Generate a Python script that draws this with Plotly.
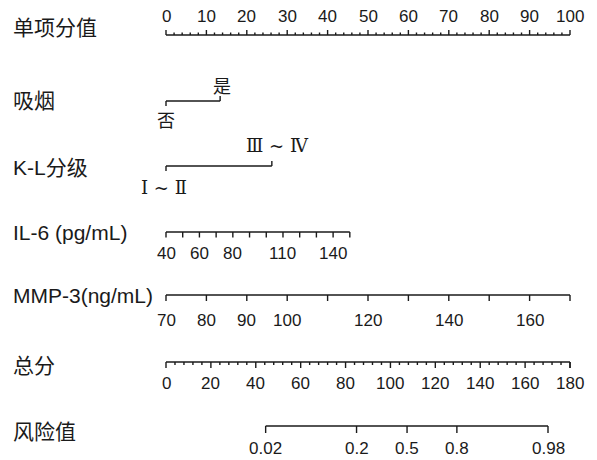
import plotly.graph_objects as go

# ---------------- data ----------------
row_labels = ["单项分值", "吸烟", "K-L分级", "IL-6 (pg/mL)", "MMP-3(ng/mL)", "总分", "风险值"]

point_ticks = list(range(0, 101, 10))          # 单项分值 labelled ticks
point_minor_step = 2

smoking_levels = ["否", "是"]
smoking_points = [0, 13.4]

kl_levels = ["Ⅰ ~ Ⅱ", "Ⅲ ~ Ⅳ"]
kl_points = [0, 26.2]

il6_range = [40, 150]
il6_points_range = [0, 45.5]
il6_ticks = list(range(40, 151, 10))
il6_labels = [40, 60, 80, 110, 140]

mmp3_range = [70, 170]
mmp3_points_range = [0, 100]
mmp3_ticks = list(range(70, 171, 10))
mmp3_labels = [70, 80, 90, 100, 120, 140, 160]

total_range = [0, 180]
total_ticks = list(range(0, 181, 20))
total_minor_step = 4

risk_values = [0.02, 0.2, 0.5, 0.8, 0.98]
risk_total_points = [44.4, 84.9, 107.4, 129.6, 170.2]

# ---------------- layout constants (pixels) ----------------
W, H = 597, 460
X0 = 166.0            # pixel of 0 points
PX_PER_PT = 4.04      # pixels per point
row_y = {"points": 35, "smoke": 101, "kl": 166, "il6": 232, "mmp3": 295, "total": 362, "risk": 426}
label_y = [27, 100, 167, 232, 295, 365, 431]


def to_pts(v, vr, pr):
    return pr[0] + (v - vr[0]) / (vr[1] - vr[0]) * (pr[1] - pr[0])


def total_to_pts(t):
    return t / total_range[1] * 100.0


# conversion pixel -> data (for the axis range only)
xr = [(0 - X0) / PX_PER_PT, (W - X0) / PX_PER_PT]

xs, ys = [], []


def seg(x0, y0, x1, y1):
    xs.extend([x0, x1, None])
    ys.extend([y0, y1, None])


annotations = []
SANS = "Liberation Sans, Arial, Noto Sans CJK SC"


def text(x, y, s, size=17, anchor="center", family=SANS):
    annotations.append(dict(x=x, y=y, xref="x", yref="y", text=s, showarrow=False,
                            xanchor=anchor, yanchor="middle", borderpad=0,
                            font=dict(size=size, color="#1a1a1a", family=family)))


# --- points axis (ticks up, labels above)
y = row_y["points"]
seg(0, y, 100, y)
for v in range(0, 101, point_minor_step):
    h = 5 if v % 10 == 0 else 2.5
    seg(v, y, v, y - h)
for v in point_ticks:
    text(v, y - 19, str(v))

# --- smoking
y = row_y["smoke"]
p0, p1 = smoking_points
seg(p0, y, p1, y)
seg(p0, y, p0, y + 5)
seg(p1, y, p1, y - 5)
text(p0, y + 18, smoking_levels[0], size=18, family="Noto Sans CJK SC")
text(p1 + 0.5, y - 16, smoking_levels[1], size=18, family="Noto Sans CJK SC")

# --- K-L
y = row_y["kl"]
p0, p1 = kl_points
seg(p0, y, p1, y)
seg(p0, y, p0, y + 5)
seg(p1, y, p1, y - 5)
text(p0 - 0.5, y + 21, kl_levels[0], size=18, family="DejaVu Serif, Noto Sans CJK SC")
text(p1 + 1.5, y - 21, kl_levels[1], size=18, family="DejaVu Serif, Noto Sans CJK SC")

# --- IL-6
y = row_y["il6"]
a = to_pts(il6_range[0], il6_range, il6_points_range)
b = to_pts(il6_range[1], il6_range, il6_points_range)
seg(a, y, b, y)
for v in il6_ticks:
    p = to_pts(v, il6_range, il6_points_range)
    seg(p, y, p, y + 5.5)
for v in il6_labels:
    text(to_pts(v, il6_range, il6_points_range), y + 21, str(v))

# --- MMP-3
y = row_y["mmp3"]
a = to_pts(mmp3_range[0], mmp3_range, mmp3_points_range)
b = to_pts(mmp3_range[1], mmp3_range, mmp3_points_range)
seg(a, y, b, y)
for v in mmp3_ticks:
    p = to_pts(v, mmp3_range, mmp3_points_range)
    seg(p, y, p, y + 6)
for v in mmp3_labels:
    text(to_pts(v, mmp3_range, mmp3_points_range), y + 25, str(v))

# --- total points
y = row_y["total"]
seg(total_to_pts(total_range[0]), y, total_to_pts(total_range[1]), y)
for v in range(total_range[0], total_range[1] + 1, total_minor_step):
    h = 6 if v % 20 == 0 else 3
    seg(total_to_pts(v), y, total_to_pts(v), y + h)
seg(total_to_pts(total_range[1]), y, total_to_pts(total_range[1]), y + 6)
for v in total_ticks:
    text(total_to_pts(v), y + 21, str(v))

# --- risk
y = row_y["risk"]
rp = [total_to_pts(t) for t in risk_total_points]
seg(rp[0], y, rp[-1], y)
for p, v in zip(rp, risk_values):
    seg(p, y, p, y + 7)
    text(p, y + 22, str(v))

# --- row labels
lx = (12 - X0) / PX_PER_PT
for s, ly in zip(row_labels, label_y):
    text(lx, ly, s, size=21, anchor="left")

fig = go.Figure()
fig.add_trace(go.Scatter(x=xs, y=ys, mode="lines", line=dict(color="#1a1a1a", width=1.4),
                         hoverinfo="skip", showlegend=False))
fig.update_layout(
    width=W, height=H, margin=dict(l=0, r=0, t=0, b=0),
    paper_bgcolor="white", plot_bgcolor="white",
    xaxis=dict(range=xr, visible=False, fixedrange=True),
    yaxis=dict(range=[H, 0], visible=False, fixedrange=True),
    annotations=annotations, showlegend=False,
)
fig.write_html("out.html", config={"displayModeBar": False},
               post_script="document.body.style.margin='0';document.body.style.overflow='hidden';")
